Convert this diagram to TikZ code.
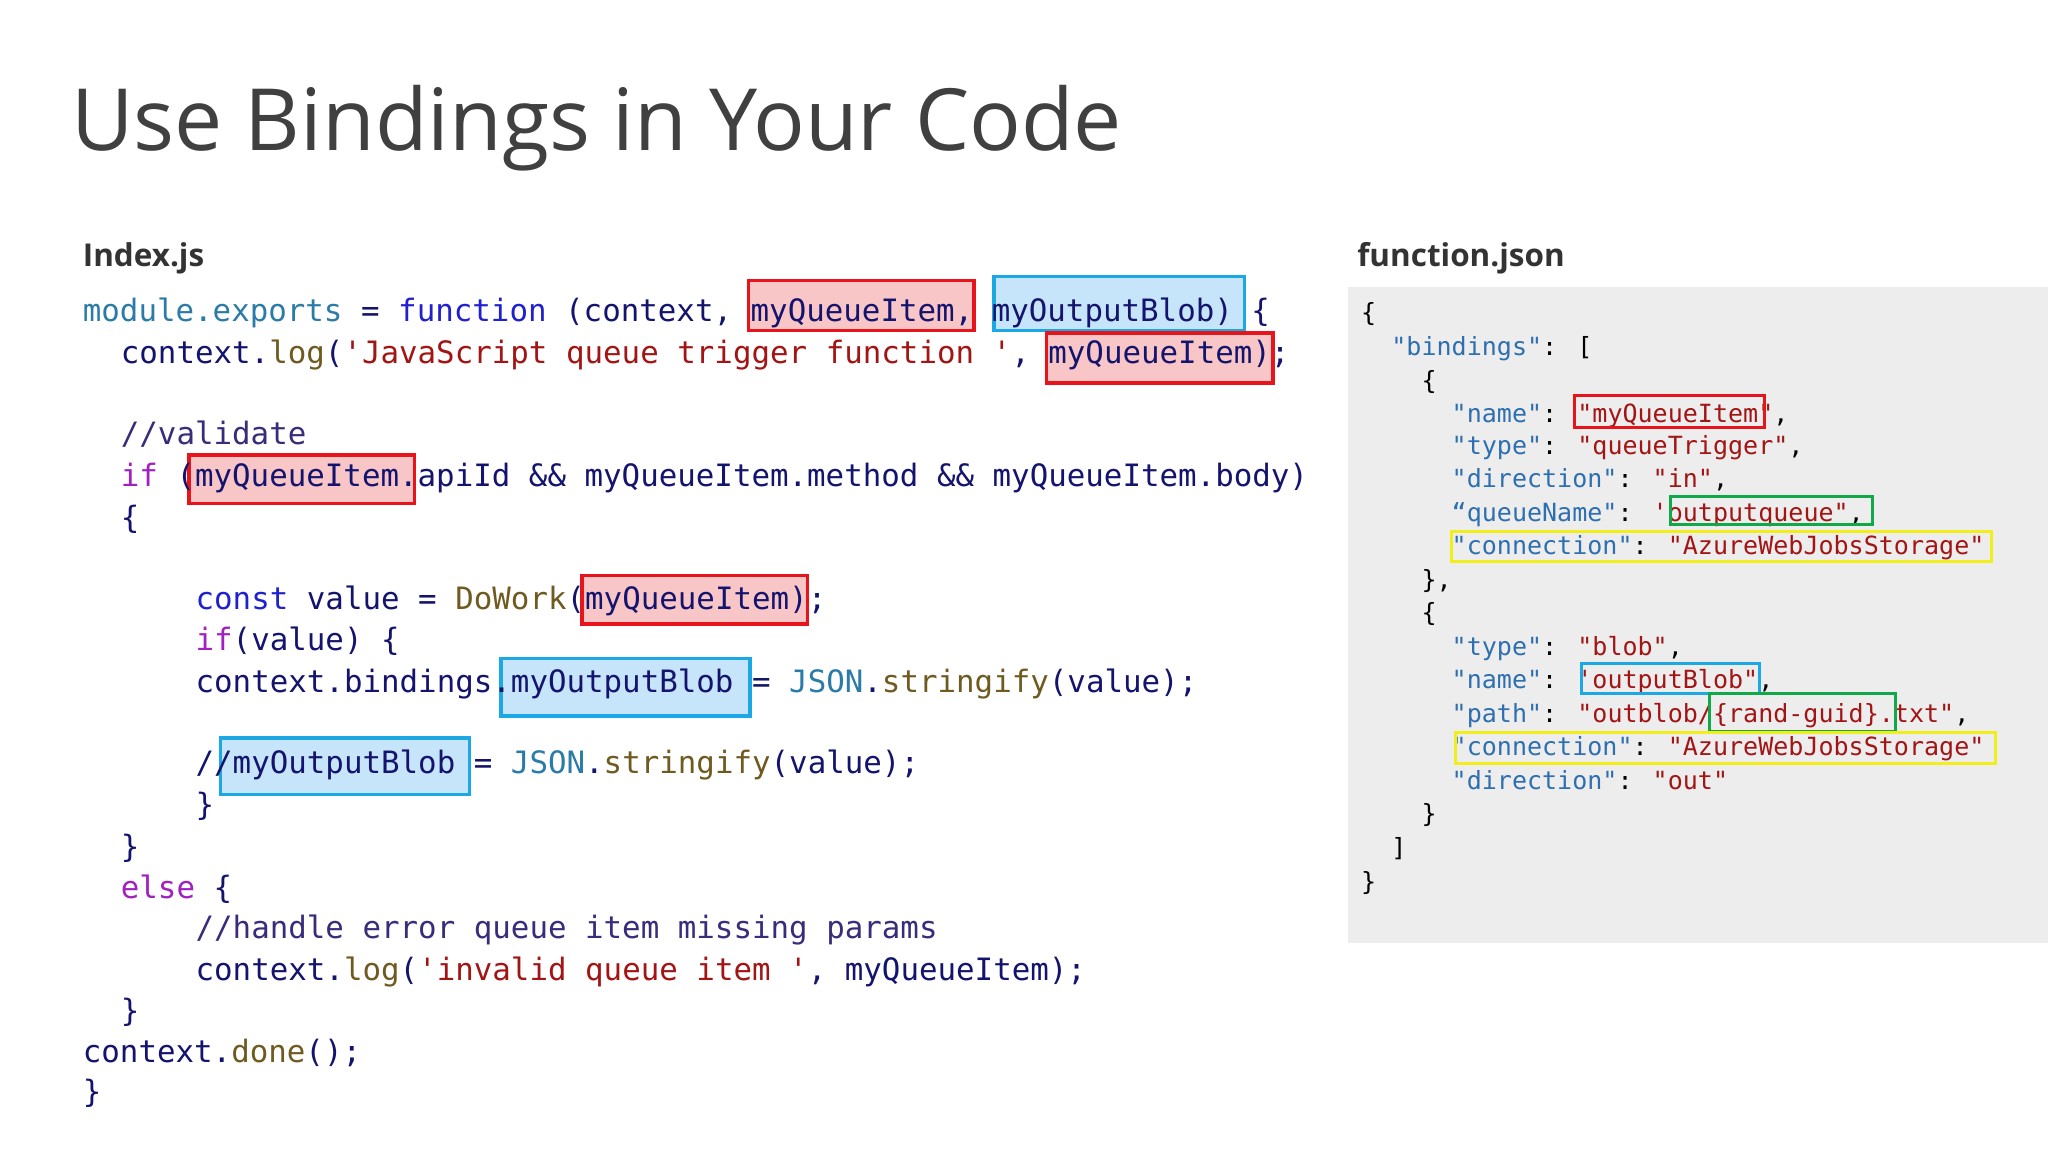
\documentclass[tikz,border=0pt]{standalone}
\usepackage{fontspec}
\setmainfont{Open Sans}
\newfontfamily\cf{DejaVu Sans Mono}
\definecolor{cmod}{HTML}{2B7BA8}
\definecolor{ckw}{HTML}{2020D0}
\definecolor{cid}{HTML}{14146E}
\definecolor{cfn}{HTML}{6F5A20}
\definecolor{cstr}{HTML}{A31515}
\definecolor{cctl}{HTML}{A020C0}
\definecolor{ccmt}{HTML}{3B2B7B}
\definecolor{cjk}{HTML}{2E6FB0}
\definecolor{pinkf}{HTML}{F8C6C6}
\definecolor{bluef}{HTML}{C6E4FA}
\definecolor{rbox}{HTML}{E8141B}
\definecolor{bbox}{HTML}{1CA8E4}
\definecolor{gbox}{HTML}{10A848}
\definecolor{ybox}{HTML}{F2EE1A}
\newcommand{\M}[1]{\textcolor{cmod}{#1}}
\newcommand{\K}[1]{\textcolor{ckw}{#1}}
\newcommand{\I}[1]{\textcolor{cid}{#1}}
\newcommand{\F}[1]{\textcolor{cfn}{#1}}
\newcommand{\St}[1]{\textcolor{cstr}{#1}}
\newcommand{\C}[1]{\textcolor{cctl}{#1}}
\newcommand{\Cm}[1]{\textcolor{ccmt}{#1}}
\newcommand{\J}[1]{\textcolor{cjk}{#1}}
\begin{document}
\begin{tikzpicture}[x=1pt,y=-1pt,
  code/.style={anchor=base west,inner sep=0pt,font=\cf\fontsize{23.5}{28}\selectfont,text=cid},
  js/.style={anchor=base west,inner sep=0pt,font=\cf\fontsize{19.1}{24}\selectfont,text=black},
  hl/.style={line width=2.6pt},
  jb/.style={line width=2.3pt}]
\useasboundingbox (0,0) rectangle (1562,878.6);
\fill[white] (0,0) rectangle (1562,878.6);
\node[anchor=base west,inner sep=0pt,font=\fontsize{65.5}{70}\selectfont,text=black!75] (title) at (54,115) {Use Bindings in Your Code};
\node[anchor=base west,inner sep=0pt,font=\bfseries\fontsize{24}{28}\selectfont,text=black!80] (h1) at (63,203) {Index.js};
\node[anchor=base west,inner sep=0pt,font=\bfseries\fontsize{24}{28}\selectfont,text=black!80] (h2) at (1035,203) {function.json};
% json panel
\fill[black!7] (1028,219) rectangle (1562,719);
% code highlight boxes
\draw[hl,rbox,fill=pinkf] (571,214) rectangle (743,252);
\draw[hl,bbox,fill=bluef] (758,211) rectangle (949,252);
\draw[hl,rbox,fill=pinkf] (798,254) rectangle (971,292);
\draw[hl,rbox,fill=pinkf] (144,347) rectangle (316,384);
\draw[hl,rbox,fill=pinkf] (444,439) rectangle (616,476);
\draw[hl,bbox,fill=bluef] (382,502) rectangle (572,546);
\draw[hl,bbox,fill=bluef] (168,563) rectangle (358,606);
% code
\node[code] (l1) at (63,245) {\M{module.exports} = \K{function} (context, myQueueItem, myOutputBlob) \{};
\node[code] (l2) at (92,277) {context.\F{log}(\St{'JavaScript queue trigger function '}, myQueueItem);};
\node[code] (l3) at (92,339) {\Cm{//validate}};
\node[code] (l4) at (92,371) {\C{if} (myQueueItem.apiId \&\& myQueueItem.method \&\& myQueueItem.body)};
\node[code] (l5) at (92,403) {\{};
\node[code] (l6) at (149,465) {\K{const} value = \F{DoWork}(myQueueItem);};
\node[code] (l7) at (149,496) {\C{if}(value) \{};
\node[code] (l8) at (149,528) {context.bindings.myOutputBlob = \M{JSON}.\F{stringify}(value);};
\node[code] (l9) at (149,590) {//myOutputBlob = \M{JSON}.\F{stringify}(value);};
\node[code] (l10) at (149,622) {\}};
\node[code] (l11) at (92,654) {\}};
\node[code] (l12) at (92,685) {\C{else} \{};
\node[code] (l13) at (149,716) {\Cm{//handle error queue item missing params}};
\node[code] (l14) at (149,748) {context.\F{log}(\St{'invalid queue item '}, myQueueItem);};
\node[code] (l15) at (92,779) {\}};
\node[code] (l16) at (63,810) {context.\F{done}();};
\node[code] (l17) at (63,841) {\}};
% json
\node[js] (j1) at (1038,245) {\{};
\node[js] (j2) at (1061,271) {\J{"bindings"}: [};
\node[js] (j3) at (1084,297) {\{};
\node[js] (j4) at (1107,322) {\J{"name"}: \St{"myQueueItem"},};
\node[js] (j5) at (1107,347) {\J{"type"}: \St{"queueTrigger"},};
\node[js] (j6) at (1107,372) {\J{"direction"}: \St{"in"},};
\node[js] (j7) at (1107,398) {\J{“queueName"}:  \St{'outputqueue"},};
\node[js] (j8) at (1107,423) {\J{"connection"}: \St{"AzureWebJobsStorage"}};
\node[js] (j9) at (1084,449) {\},};
\node[js] (j10) at (1084,474) {\{};
\node[js] (j11) at (1107,500) {\J{"type"}: \St{"blob"},};
\node[js] (j12) at (1107,525) {\J{"name"}: \St{'outputBlob"},};
\node[js] (j13) at (1107,551) {\J{"path"}: \St{"outblob/\{rand-guid\}.txt"},};
\node[js] (j14) at (1107,576) {\J{"connection"}: \St{"AzureWebJobsStorage"}};
\node[js] (j15) at (1107,602) {\J{"direction"}: \St{"out"}};
\node[js] (j16) at (1084,627) {\}};
\node[js] (j17) at (1061,653) {]};
\node[js] (j18) at (1038,679) {\}};
% json boxes
\draw[jb,rbox] (1201,302) rectangle (1346,326);
\draw[jb,gbox] (1274,379) rectangle (1428,400);
\draw[jb,ybox] (1107,405) rectangle (1519,428);
\draw[jb,bbox] (1206,506) rectangle (1342,529);
\draw[jb,gbox] (1304,529) rectangle (1446,558);
\draw[jb,ybox] (1110,559) rectangle (1522,582);
\end{tikzpicture}
\end{document}
